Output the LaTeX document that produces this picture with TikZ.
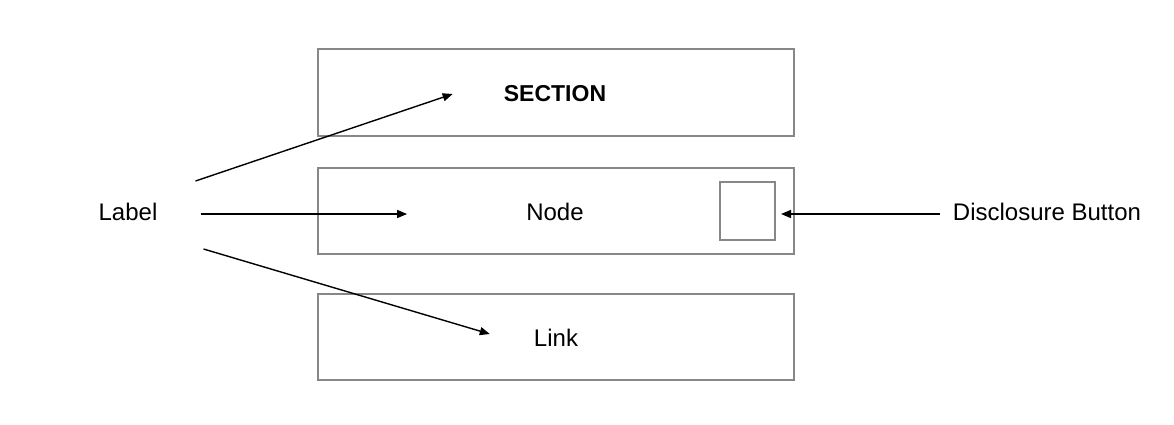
\documentclass[tikz,border=0pt]{standalone}
\usepackage{fontspec}
\setmainfont{Liberation Sans}
\usetikzlibrary{calc,arrows.meta}
\def\drawframe{\draw[color=black!47, line width=2pt]}
\def\drawpointer{\draw[line width=1.4pt,-{Triangle[length=10pt,width=8pt]}]}
\def\textnode{\node[inner sep=0pt,font=\fontsize{24}{29}\selectfont]}

\begin{document}
\begin{tikzpicture}[x=1pt,y=-1pt]
\useasboundingbox (0,0) rectangle (1174,424);
\coordinate (o) at (318,49); % boxes are relative to (o)

% The three rows
\drawframe (o) rectangle ($ (o) + (476,87) $);
\drawframe ($ (o) + (0,119) $) rectangle ($ (o) + (476,205) $);
\drawframe ($ (o) + (0,245) $) rectangle ($ (o) + (476,331) $);
\drawframe ($ (o) + (402,133) $) rectangle ($ (o) + (457,191) $);

% Texts
\textnode[font=\fontsize{23}{28}\selectfont\bfseries] (section) at ($ (o) + (237,45) $) {SECTION};
\textnode (node) at ($ (o) + (237,163) $) {Node};
\textnode (link) at ($ (o) + (238,289) $) {Link};
\textnode (label) at (128,212) {Label};
\textnode (button) at (1047,212) {Disclosure Button};

% Pointers from the label
\coordinate (section_tip) at ($ (section.west) + (-51,0) $);
\coordinate (node_tip) at ($ (node.west) + (-119,2) $);
\coordinate (link_tip) at ($ (link.west) + (-44,-4) $);
\coordinate (button_tip) at ($ (o) + (463,165) $);
\drawpointer ($ (label.north east) + (38,-22) $) to (section_tip);
\drawpointer ($ (label.east) + (43,2) $) to (node_tip);
\drawpointer ($ (label.south east) + (46,28) $) to (link_tip);
\drawpointer ($ (button.west) + (-13,2) $) to (button_tip);
\end{tikzpicture}
\end{document}
